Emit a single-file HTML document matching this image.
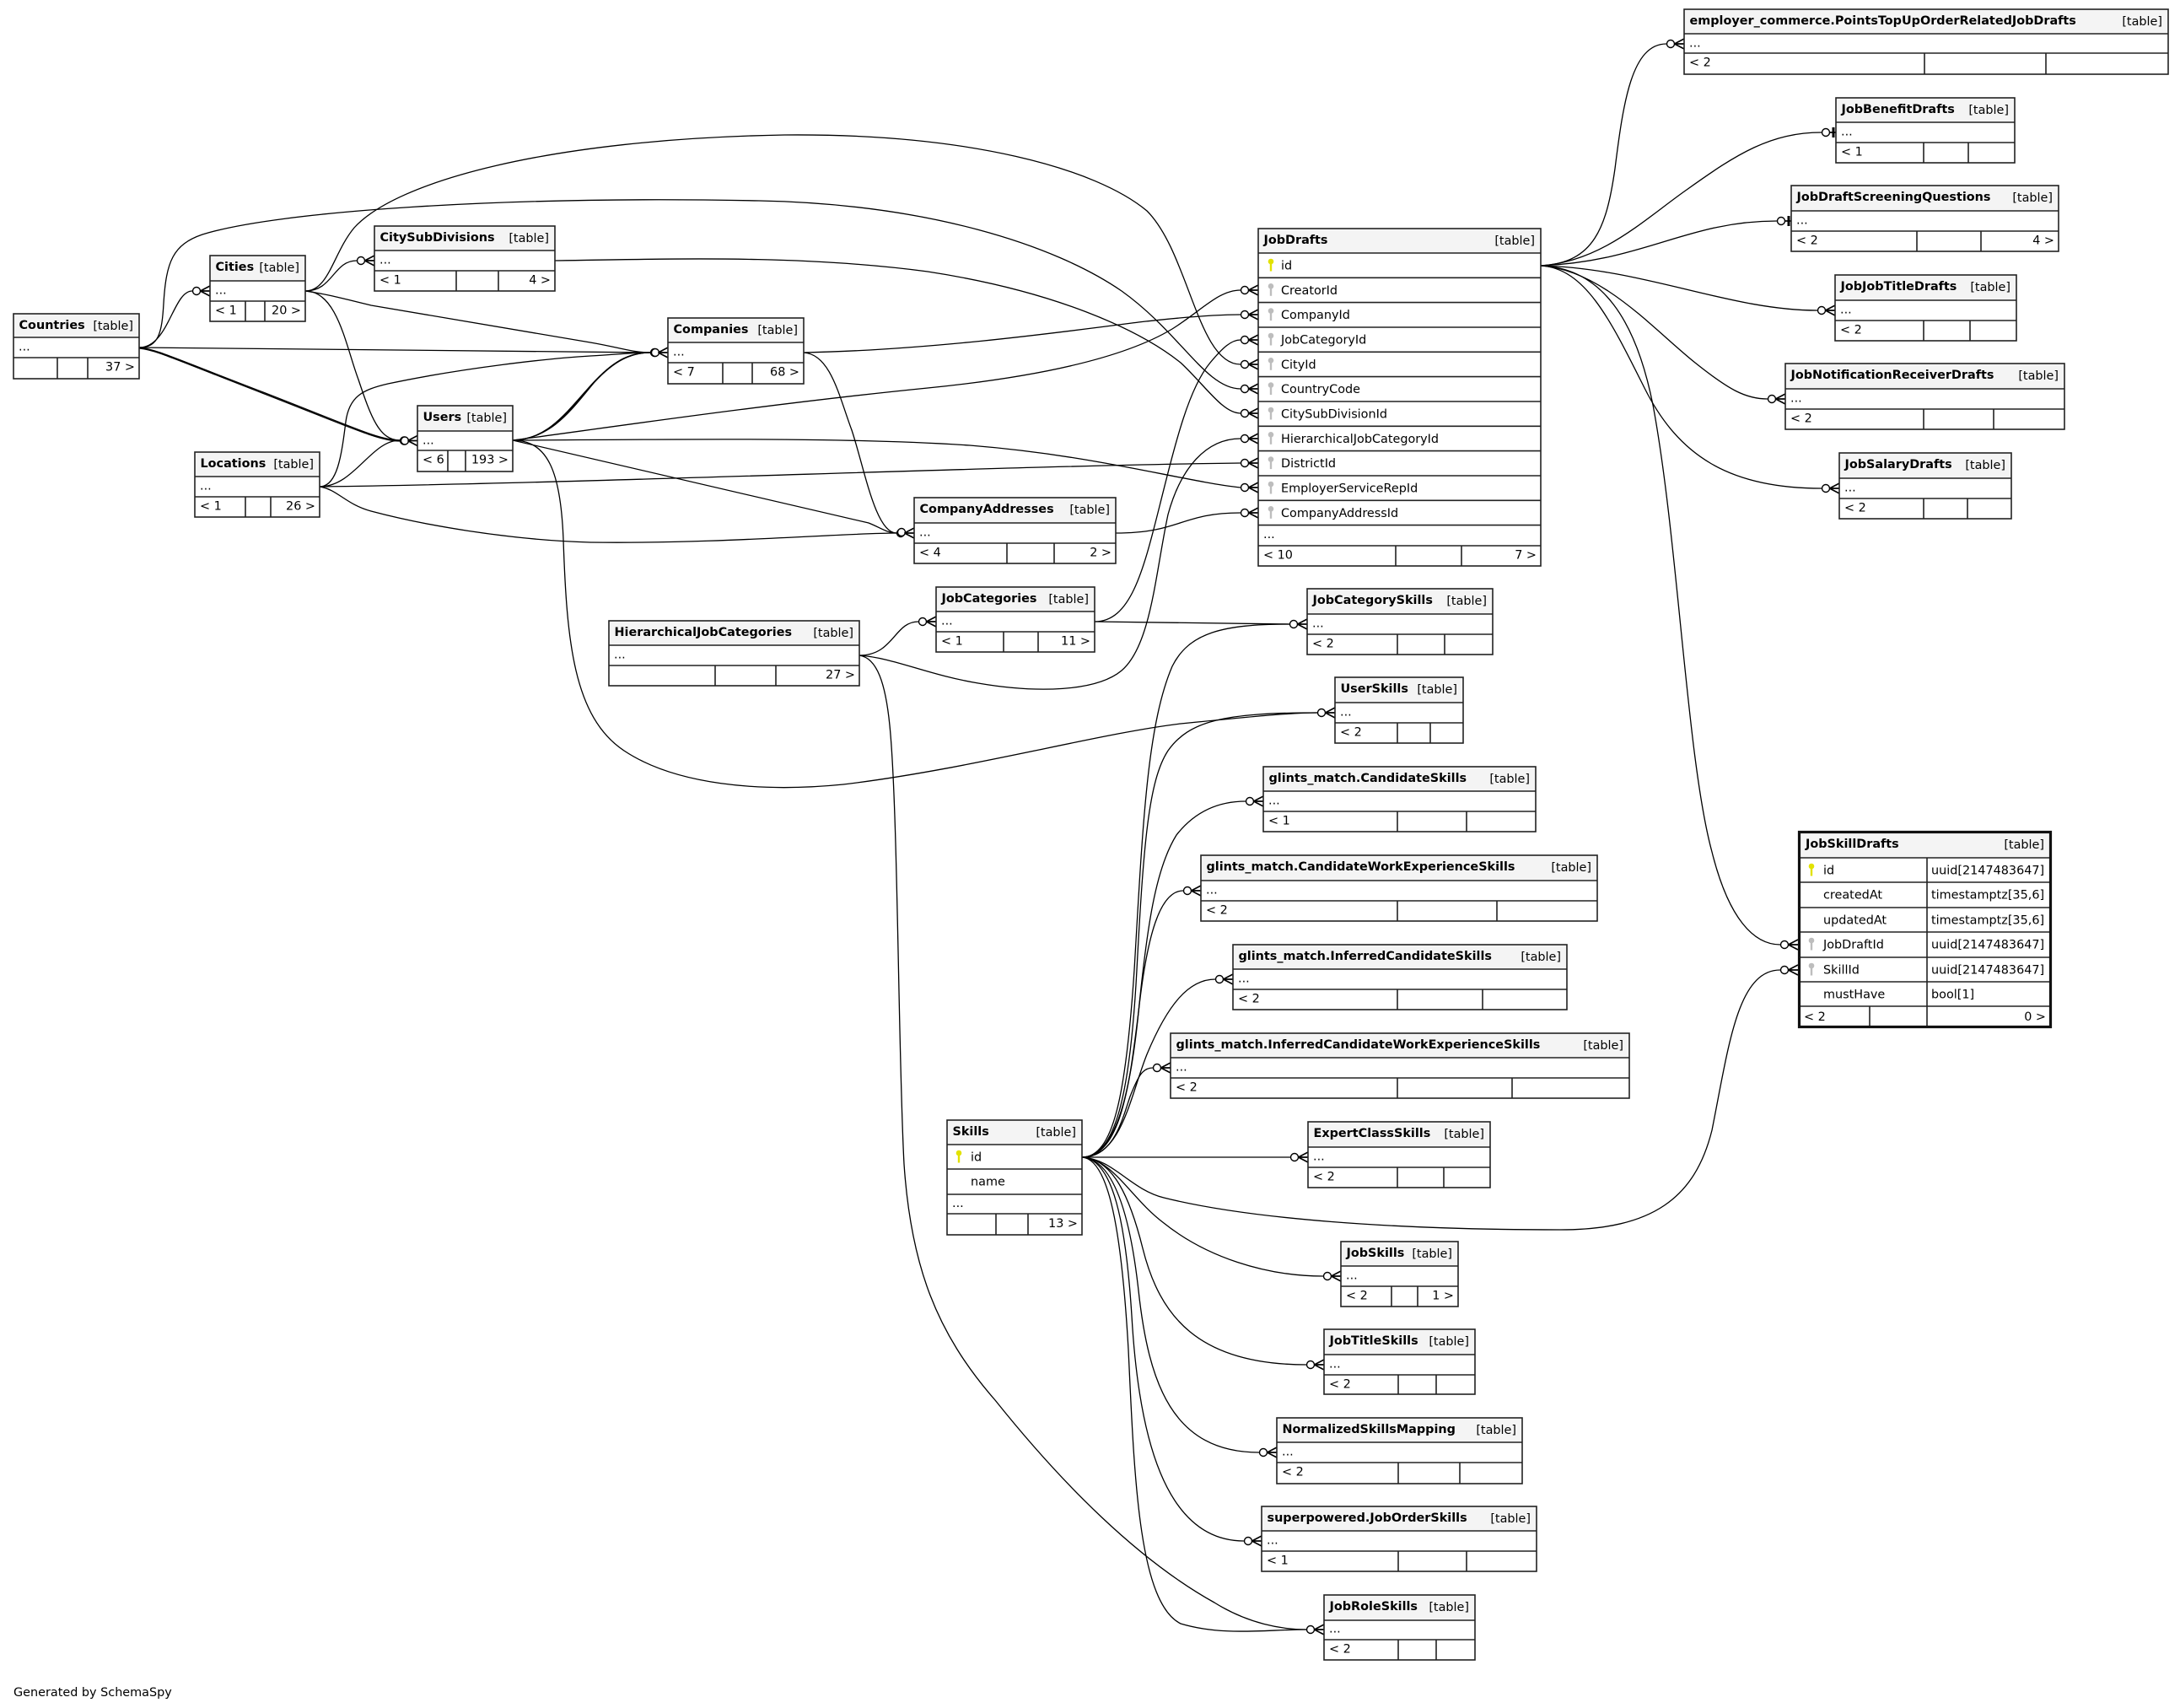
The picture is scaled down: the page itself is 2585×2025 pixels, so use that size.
<!DOCTYPE html>
<html><head><meta charset="utf-8">
<style>
html,body{margin:0;padding:0;background:#fff;}
svg{display:block}
text{font-family:"DejaVu Sans","Liberation Sans",sans-serif;font-size:14.4px;fill:#000}
.b{font-weight:bold}
.e{text-anchor:end}
.tb{fill:none;stroke:#222;stroke-width:1.6}
.tbk{fill:none;stroke:#111;stroke-width:3.2}
.ln{fill:none;stroke:#222;stroke-width:1.6}
.hd{fill:#f4f4f4}
.ed{fill:none;stroke:#000;stroke-width:1.3}
.ck{fill:#fff;stroke:#000;stroke-width:1.4}
.cf{fill:none;stroke:#000;stroke-width:1.7}
.tee{fill:none;stroke:#000;stroke-width:3}
</style></head><body>
<svg width="2585" height="2025" viewBox="0 0 2585 2025" xmlns="http://www.w3.org/2000/svg">
<defs><g id="k"><circle cx="0" cy="10" r="3.3"/><rect x="-1.2" y="11.5" width="2.4" height="10"/></g></defs>
<rect x="0" y="0" width="2585" height="2025" fill="#fff"/>

<!-- EDGES -->
<g class="ed">
<path d="M165,412 C200,412 205,345 228,345"/>
<path d="M165,412 C400,414 600,417 771,418"/>
<path d="M165,412 C185,414 200,422 312,465 C420,507 450,522 474,522"/>
<path d="M165,413 C185,415 200,423 311,466 C419,508 450,523 474,523"/>
<path d="M165,412 C188,412 192,395 194,360 C197,310 205,290 240,278 C330,250 600,232 900,238 C1100,242 1250,290 1330,345 C1400,395 1430,461 1471,461"/>
<path d="M362,345 C390,345 395,300 420,270 C470,215 650,165 930,160 C1150,158 1300,200 1360,250 C1410,300 1420,432 1471,432"/>
<path d="M362,345 C395,345 395,309 423,309"/>
<path d="M362,345 C400,345 410,410 425,450 C440,495 450,522 474,522"/>
<path d="M362,345 C395,350 410,355 440,362 L700,406 C735,412 750,418 771,418"/>
<path d="M658,309 C800,307 950,302 1100,322 C1250,345 1350,390 1400,430 C1430,458 1450,490 1471,490"/>
<path d="M608,522 C650,521 672,490 700,458 C725,430 745,418 771,418"/>
<path d="M608,522 C655,520 678,485 705,453 C728,428 748,418 771,418"/>
<path d="M608,522 C645,522 668,494 696,462 C722,432 742,418 771,418"/>
<path d="M608,522 C700,510 900,480 1100,460 C1250,445 1340,420 1390,390 C1425,368 1445,344 1471,344"/>
<path d="M608,522 C800,521 1000,518 1150,528 C1300,540 1400,570 1471,578"/>
<path d="M608,522 L1030,620 C1045,626 1052,632 1063,632"/>
<path d="M608,522 C650,522 665,560 668,640 C672,760 680,850 740,890 C800,930 900,940 1000,930 C1150,912 1300,870 1400,858 C1480,850 1530,845 1562,845"/>
<path d="M379,577 C420,577 440,522 474,522"/>
<path d="M379,577 C400,577 405,540 410,500 C414,470 430,462 460,455 C550,436 650,425 700,422 C735,420 752,418 771,418"/>
<path d="M379,577 C700,573 1200,552 1471,549"/>
<path d="M379,577 C400,580 410,598 440,606 C500,622 600,640 700,643 C850,645 1000,632 1063,632"/>
<path d="M953,418 C1100,415 1250,395 1350,382 C1420,374 1450,373 1471,373"/>
<path d="M953,418 C985,420 995,470 1010,510 C1025,555 1038,632 1063,632"/>
<path d="M1323,632 C1400,632 1400,608 1471,608"/>
<path d="M1298,737 C1340,737 1355,680 1375,600 C1395,520 1410,460 1435,430 C1450,412 1460,403 1471,403"/>
<path d="M1298,737 L1529,740"/>
<path d="M1019,777 C1060,777 1060,737 1089,737"/>
<path d="M1019,777 C1060,780 1100,800 1160,810 C1230,822 1300,820 1330,795 C1365,765 1370,680 1385,610 C1400,555 1430,520 1471,520"/>
<path d="M1019,777 C1040,780 1050,810 1055,860 C1065,960 1065,1250 1072,1380 C1080,1500 1110,1580 1180,1660 C1260,1760 1350,1850 1440,1900 C1480,1925 1520,1932 1549,1932"/>
<path d="M1827,315 C1890,312 1905,270 1915,200 C1925,120 1935,52 1976,52"/>
<path d="M1827,315 C1900,310 1950,260 2000,225 C2060,182 2100,157 2160,157"/>
<path d="M1827,315 C1950,310 2000,262 2107,262"/>
<path d="M1827,315 C1950,318 2050,368 2155,368"/>
<path d="M1827,315 C1900,320 1960,390 2010,430 C2050,462 2070,473 2096,473"/>
<path d="M1827,315 C1880,318 1910,380 1950,460 C1990,540 2050,579 2160,579"/>
<path d="M1827,315 C1900,318 1940,380 1960,480 C1990,640 2000,900 2030,1010 C2050,1090 2080,1120 2111,1120"/>
<path d="M1283,1372 C1320,1372 1335,1300 1345,1150 C1355,980 1360,860 1390,790 C1410,750 1450,740 1529,740"/>
<path d="M1283,1372 C1322,1372 1340,1300 1348,1150 C1356,1000 1362,925 1385,890 C1410,855 1450,845 1562,845"/>
<path d="M1283,1372 C1322,1372 1340,1300 1350,1200 C1360,1100 1370,1030 1395,990 C1420,958 1450,950 1477,950"/>
<path d="M1283,1372 C1330,1372 1340,1280 1350,1200 C1360,1110 1375,1056 1403,1056"/>
<path d="M1283,1372 C1330,1372 1340,1300 1360,1250 C1385,1190 1410,1161 1441,1161"/>
<path d="M1283,1372 C1320,1372 1330,1330 1340,1300 C1350,1275 1355,1266 1367,1266"/>
<path d="M1283,1372 L1530,1372"/>
<path d="M1283,1372 C1320,1374 1340,1410 1380,1420 C1480,1445 1650,1458 1850,1458 C1960,1458 2010,1420 2030,1340 C2050,1240 2060,1150 2111,1150"/>
<path d="M1283,1372 C1320,1374 1340,1420 1380,1450 C1430,1490 1500,1513 1569,1513"/>
<path d="M1283,1372 C1320,1374 1340,1420 1355,1480 C1375,1560 1420,1618 1549,1618"/>
<path d="M1283,1372 C1320,1374 1340,1440 1350,1530 C1362,1640 1390,1722 1493,1722"/>
<path d="M1283,1372 C1320,1374 1335,1450 1342,1560 C1350,1700 1380,1827 1475,1827"/>
<path d="M1283,1372 C1315,1374 1330,1460 1338,1600 C1345,1750 1350,1900 1400,1925 C1450,1940 1500,1932 1549,1932"/>
</g>

<!-- CROW MARKERS -->
<g>
<circle class="ck" cx="233" cy="345" r="4.5"/><path class="cf" d="M237.5,345L249,339M237.5,345L249,351M237.5,345H249"/>
<circle class="ck" cx="428" cy="309" r="4.5"/><path class="cf" d="M432.5,309L444,303M432.5,309L444,315M432.5,309H444"/>
<circle class="ck" cx="479" cy="522.5" r="4.5"/><circle class="ck" cx="480" cy="522.5" r="4.5"/><path class="cf" d="M483.5,522.5L495,516.5M483.5,522.5L495,528.5M483.5,522.5H495"/>
<circle class="ck" cx="776" cy="418" r="4.5"/><circle class="ck" cx="777" cy="418" r="4.5"/><path class="cf" d="M780.5,418L792,412M780.5,418L792,424M780.5,418H792"/>
<circle class="ck" cx="1068" cy="632" r="4.5"/><circle class="ck" cx="1069" cy="631" r="4.5"/><path class="cf" d="M1072.5,632L1084,626M1072.5,632L1084,638M1072.5,632H1084"/>
<circle class="ck" cx="1094" cy="737" r="4.5"/><path class="cf" d="M1098.5,737L1110,731M1098.5,737L1110,743M1098.5,737H1110"/>

<circle class="ck" cx="1476" cy="344" r="4.5"/><path class="cf" d="M1480.5,344L1492,338M1480.5,344L1492,350M1480.5,344H1492"/>
<circle class="ck" cx="1476" cy="373" r="4.5"/><path class="cf" d="M1480.5,373L1492,367M1480.5,373L1492,379M1480.5,373H1492"/>
<circle class="ck" cx="1476" cy="403" r="4.5"/><path class="cf" d="M1480.5,403L1492,397M1480.5,403L1492,409M1480.5,403H1492"/>
<circle class="ck" cx="1476" cy="432" r="4.5"/><path class="cf" d="M1480.5,432L1492,426M1480.5,432L1492,438M1480.5,432H1492"/>
<circle class="ck" cx="1476" cy="461" r="4.5"/><path class="cf" d="M1480.5,461L1492,455M1480.5,461L1492,467M1480.5,461H1492"/>
<circle class="ck" cx="1476" cy="490" r="4.5"/><path class="cf" d="M1480.5,490L1492,484M1480.5,490L1492,496M1480.5,490H1492"/>
<circle class="ck" cx="1476" cy="520" r="4.5"/><path class="cf" d="M1480.5,520L1492,514M1480.5,520L1492,526M1480.5,520H1492"/>
<circle class="ck" cx="1476" cy="549" r="4.5"/><path class="cf" d="M1480.5,549L1492,543M1480.5,549L1492,555M1480.5,549H1492"/>
<circle class="ck" cx="1476" cy="578" r="4.5"/><path class="cf" d="M1480.5,578L1492,572M1480.5,578L1492,584M1480.5,578H1492"/>
<circle class="ck" cx="1476" cy="608" r="4.5"/><path class="cf" d="M1480.5,608L1492,602M1480.5,608L1492,614M1480.5,608H1492"/>

<circle class="ck" cx="1981" cy="52" r="4.5"/><path class="cf" d="M1985.5,52L1997,46M1985.5,52L1997,58M1985.5,52H1997"/>
<circle class="ck" cx="2165" cy="157" r="4.5"/><path class="cf" d="M2169.5,157H2177"/><path class="tee" d="M2174,151V163"/>
<circle class="ck" cx="2112" cy="262" r="4.5"/><path class="cf" d="M2116.5,262H2124"/><path class="tee" d="M2121,256V268"/>
<circle class="ck" cx="2160" cy="368" r="4.5"/><path class="cf" d="M2164.5,368L2176,362M2164.5,368L2176,374M2164.5,368H2176"/>
<circle class="ck" cx="2101" cy="473" r="4.5"/><path class="cf" d="M2105.5,473L2117,467M2105.5,473L2117,479M2105.5,473H2117"/>
<circle class="ck" cx="2165" cy="579" r="4.5"/><path class="cf" d="M2169.5,579L2181,573M2169.5,579L2181,585M2169.5,579H2181"/>
<circle class="ck" cx="2116" cy="1120" r="4.5"/><path class="cf" d="M2120.5,1120L2132,1114M2120.5,1120L2132,1126M2120.5,1120H2132"/>
<circle class="ck" cx="2116" cy="1150" r="4.5"/><path class="cf" d="M2120.5,1150L2132,1144M2120.5,1150L2132,1156M2120.5,1150H2132"/>

<circle class="ck" cx="1534" cy="740" r="4.5"/><path class="cf" d="M1538.5,740L1550,734M1538.5,740L1550,746M1538.5,740H1550"/>
<circle class="ck" cx="1567" cy="845" r="4.5"/><path class="cf" d="M1571.5,845L1583,839M1571.5,845L1583,851M1571.5,845H1583"/>
<circle class="ck" cx="1482" cy="950" r="4.5"/><path class="cf" d="M1486.5,950L1498,944M1486.5,950L1498,956M1486.5,950H1498"/>
<circle class="ck" cx="1408" cy="1056" r="4.5"/><path class="cf" d="M1412.5,1056L1424,1050M1412.5,1056L1424,1062M1412.5,1056H1424"/>
<circle class="ck" cx="1446" cy="1161" r="4.5"/><path class="cf" d="M1450.5,1161L1462,1155M1450.5,1161L1462,1167M1450.5,1161H1462"/>
<circle class="ck" cx="1372" cy="1266" r="4.5"/><path class="cf" d="M1376.5,1266L1388,1260M1376.5,1266L1388,1272M1376.5,1266H1388"/>
<circle class="ck" cx="1535" cy="1372" r="4.5"/><path class="cf" d="M1539.5,1372L1551,1366M1539.5,1372L1551,1378M1539.5,1372H1551"/>
<circle class="ck" cx="1574" cy="1513" r="4.5"/><path class="cf" d="M1578.5,1513L1590,1507M1578.5,1513L1590,1519M1578.5,1513H1590"/>
<circle class="ck" cx="1554" cy="1618" r="4.5"/><path class="cf" d="M1558.5,1618L1570,1612M1558.5,1618L1570,1624M1558.5,1618H1570"/>
<circle class="ck" cx="1498" cy="1722" r="4.5"/><path class="cf" d="M1502.5,1722L1514,1716M1502.5,1722L1514,1728M1502.5,1722H1514"/>
<circle class="ck" cx="1480" cy="1827" r="4.5"/><path class="cf" d="M1484.5,1827L1496,1821M1484.5,1827L1496,1833M1484.5,1827H1496"/>
<circle class="ck" cx="1554" cy="1932" r="4.5"/><path class="cf" d="M1558.5,1932L1570,1926M1558.5,1932L1570,1938M1558.5,1932H1570"/>
</g>

<!-- TABLES -->
<!-- Countries -->
<g><rect x="16" y="372" width="149" height="77" fill="#fff"/><rect class="hd" x="16" y="372" width="149" height="28"/>
<path class="ln" d="M16,400H165M16,424H165M68,424V449M104,424V449"/><rect class="tb" x="16" y="372" width="149" height="77"/>
<text class="b" x="22.5" y="390">Countries</text><text class="e" x="158" y="391">[table]</text>
<text x="22" y="415.5">...</text><text class="e" x="160" y="439.5">37 &gt;</text></g>

<!-- Cities -->
<g><rect x="249" y="303" width="113" height="78" fill="#fff"/><rect class="hd" x="249" y="303" width="113" height="30"/>
<path class="ln" d="M249,333H362M249,357H362M291,357V381M314,357V381"/><rect class="tb" x="249" y="303" width="113" height="78"/>
<text class="b" x="255.5" y="321">Cities</text><text class="e" x="355" y="322">[table]</text>
<text x="255" y="348.5">...</text><text x="255" y="372.5">&lt; 1</text><text class="e" x="357" y="372.5">20 &gt;</text></g>

<!-- CitySubDivisions -->
<g><rect x="444" y="268" width="214" height="77" fill="#fff"/><rect class="hd" x="444" y="268" width="214" height="29"/>
<path class="ln" d="M444,297H658M444,321H658M541,321V345M591,321V345"/><rect class="tb" x="444" y="268" width="214" height="77"/>
<text class="b" x="450.5" y="286">CitySubDivisions</text><text class="e" x="651" y="287">[table]</text>
<text x="450" y="312.5">...</text><text x="450" y="336.5">&lt; 1</text><text class="e" x="653" y="336.5">4 &gt;</text></g>

<!-- Users -->
<g><rect x="495" y="481" width="113" height="78" fill="#fff"/><rect class="hd" x="495" y="481" width="113" height="30"/>
<path class="ln" d="M495,511H608M495,534H608M531,534V559M552,534V559"/><rect class="tb" x="495" y="481" width="113" height="78"/>
<text class="b" x="501.5" y="499">Users</text><text class="e" x="601" y="500">[table]</text>
<text x="501" y="526.5">...</text><text x="501" y="549.5">&lt; 6</text><text class="e" x="603" y="549.5">193 &gt;</text></g>

<!-- Locations -->
<g><rect x="231" y="536" width="148" height="77" fill="#fff"/><rect class="hd" x="231" y="536" width="148" height="29"/>
<path class="ln" d="M231,565H379M231,589H379M291,589V613M321,589V613"/><rect class="tb" x="231" y="536" width="148" height="77"/>
<text class="b" x="237.5" y="554">Locations</text><text class="e" x="372" y="555">[table]</text>
<text x="237" y="580.5">...</text><text x="237" y="604.5">&lt; 1</text><text class="e" x="374" y="604.5">26 &gt;</text></g>

<!-- Companies -->
<g><rect x="792" y="377" width="161" height="78" fill="#fff"/><rect class="hd" x="792" y="377" width="161" height="29"/>
<path class="ln" d="M792,406H953M792,430H953M857,430V455M892,430V455"/><rect class="tb" x="792" y="377" width="161" height="78"/>
<text class="b" x="798.5" y="395">Companies</text><text class="e" x="946" y="396">[table]</text>
<text x="798" y="421.5">...</text><text x="798" y="445.5">&lt; 7</text><text class="e" x="948" y="445.5">68 &gt;</text></g>

<!-- CompanyAddresses -->
<g><rect x="1084" y="590" width="239" height="78" fill="#fff"/><rect class="hd" x="1084" y="590" width="239" height="30"/>
<path class="ln" d="M1084,620H1323M1084,644H1323M1194,644V668M1250,644V668"/><rect class="tb" x="1084" y="590" width="239" height="78"/>
<text class="b" x="1090.5" y="608">CompanyAddresses</text><text class="e" x="1316" y="609">[table]</text>
<text x="1090" y="635.5">...</text><text x="1090" y="659.5">&lt; 4</text><text class="e" x="1318" y="659.5">2 &gt;</text></g>

<!-- JobCategories -->
<g><rect x="1110" y="696" width="188" height="77" fill="#fff"/><rect class="hd" x="1110" y="696" width="188" height="29"/>
<path class="ln" d="M1110,725H1298M1110,749H1298M1190,749V773M1231,749V773"/><rect class="tb" x="1110" y="696" width="188" height="77"/>
<text class="b" x="1116.5" y="714">JobCategories</text><text class="e" x="1291" y="715">[table]</text>
<text x="1116" y="740.5">...</text><text x="1116" y="764.5">&lt; 1</text><text class="e" x="1293" y="764.5">11 &gt;</text></g>

<!-- HierarchicalJobCategories -->
<g><rect x="722" y="736" width="297" height="77" fill="#fff"/><rect class="hd" x="722" y="736" width="297" height="29"/>
<path class="ln" d="M722,765H1019M722,789H1019M848,789V813M920,789V813"/><rect class="tb" x="722" y="736" width="297" height="77"/>
<text class="b" x="728.5" y="754">HierarchicalJobCategories</text><text class="e" x="1012" y="755">[table]</text>
<text x="728" y="780.5">...</text><text class="e" x="1014" y="804.5">27 &gt;</text></g>

<!-- JobDrafts -->
<g><rect x="1492" y="271" width="335" height="400" fill="#fff"/><rect class="hd" x="1492" y="271" width="335" height="29"/>
<path class="ln" d="M1492,300H1827M1492,329.3H1827M1492,358.6H1827M1492,388H1827M1492,417.3H1827M1492,446.6H1827M1492,476H1827M1492,505.3H1827M1492,534.6H1827M1492,564H1827M1492,593.3H1827M1492,622.6H1827M1492,647H1827M1655,647V671M1733,647V671"/>
<rect class="tb" x="1492" y="271" width="335" height="400"/>
<text class="b" x="1498.5" y="289">JobDrafts</text><text class="e" x="1820" y="290">[table]</text>
<use href="#k" x="1507" y="300" fill="#e2e200"/>
<use href="#k" x="1507" y="329.3" fill="#bdbdbd"/>
<use href="#k" x="1507" y="358.6" fill="#bdbdbd"/>
<use href="#k" x="1507" y="388" fill="#bdbdbd"/>
<use href="#k" x="1507" y="417.3" fill="#bdbdbd"/>
<use href="#k" x="1507" y="446.6" fill="#bdbdbd"/>
<use href="#k" x="1507" y="476" fill="#bdbdbd"/>
<use href="#k" x="1507" y="505.3" fill="#bdbdbd"/>
<use href="#k" x="1507" y="534.6" fill="#bdbdbd"/>
<use href="#k" x="1507" y="564" fill="#bdbdbd"/>
<use href="#k" x="1507" y="593.3" fill="#bdbdbd"/>
<text x="1519" y="319.5">id</text>
<text x="1519" y="348.8">CreatorId</text>
<text x="1519" y="378.1">CompanyId</text>
<text x="1519" y="407.5">JobCategoryId</text>
<text x="1519" y="436.8">CityId</text>
<text x="1519" y="466.1">CountryCode</text>
<text x="1519" y="495.5">CitySubDivisionId</text>
<text x="1519" y="524.8">HierarchicalJobCategoryId</text>
<text x="1519" y="554.1">DistrictId</text>
<text x="1519" y="583.5">EmployerServiceRepId</text>
<text x="1519" y="612.8">CompanyAddressId</text>
<text x="1498" y="638">...</text>
<text x="1498" y="662.5">&lt; 10</text><text class="e" x="1822" y="662.5">7 &gt;</text></g>

<!-- employer_commerce -->
<g><rect x="1997" y="11" width="574" height="77" fill="#fff"/><rect class="hd" x="1997" y="11" width="574" height="29"/>
<path class="ln" d="M1997,40H2571M1997,63H2571M2282,63V88M2426,63V88"/><rect class="tb" x="1997" y="11" width="574" height="77"/>
<text class="b" x="2003.5" y="29">employer_commerce.PointsTopUpOrderRelatedJobDrafts</text><text class="e" x="2564" y="30">[table]</text>
<text x="2003" y="55.5">...</text><text x="2003" y="78.5">&lt; 2</text></g>

<!-- JobBenefitDrafts -->
<g><rect x="2177" y="116" width="212" height="77" fill="#fff"/><rect class="hd" x="2177" y="116" width="212" height="29"/>
<path class="ln" d="M2177,145H2389M2177,169H2389M2281,169V193M2334,169V193"/><rect class="tb" x="2177" y="116" width="212" height="77"/>
<text class="b" x="2183.5" y="134">JobBenefitDrafts</text><text class="e" x="2382" y="135">[table]</text>
<text x="2183" y="160.5">...</text><text x="2183" y="184.5">&lt; 1</text></g>

<!-- JobDraftScreeningQuestions -->
<g><rect x="2124" y="220" width="317" height="78" fill="#fff"/><rect class="hd" x="2124" y="220" width="317" height="30"/>
<path class="ln" d="M2124,250H2441M2124,274H2441M2273,274V298M2349,274V298"/><rect class="tb" x="2124" y="220" width="317" height="78"/>
<text class="b" x="2130.5" y="238">JobDraftScreeningQuestions</text><text class="e" x="2434" y="239">[table]</text>
<text x="2130" y="265.5">...</text><text x="2130" y="289.5">&lt; 2</text><text class="e" x="2436" y="289.5">4 &gt;</text></g>

<!-- JobJobTitleDrafts -->
<g><rect x="2176" y="326" width="215" height="78" fill="#fff"/><rect class="hd" x="2176" y="326" width="215" height="30"/>
<path class="ln" d="M2176,356H2391M2176,380H2391M2281,380V404M2336,380V404"/><rect class="tb" x="2176" y="326" width="215" height="78"/>
<text class="b" x="2182.5" y="344">JobJobTitleDrafts</text><text class="e" x="2384" y="345">[table]</text>
<text x="2182" y="371.5">...</text><text x="2182" y="395.5">&lt; 2</text></g>

<!-- JobNotificationReceiverDrafts -->
<g><rect x="2117" y="431" width="331" height="78" fill="#fff"/><rect class="hd" x="2117" y="431" width="331" height="30"/>
<path class="ln" d="M2117,461H2448M2117,485H2448M2281,485V509M2364,485V509"/><rect class="tb" x="2117" y="431" width="331" height="78"/>
<text class="b" x="2123.5" y="449">JobNotificationReceiverDrafts</text><text class="e" x="2441" y="450">[table]</text>
<text x="2123" y="476.5">...</text><text x="2123" y="500.5">&lt; 2</text></g>

<!-- JobSalaryDrafts -->
<g><rect x="2181" y="537" width="204" height="78" fill="#fff"/><rect class="hd" x="2181" y="537" width="204" height="30"/>
<path class="ln" d="M2181,567H2385M2181,591H2385M2281,591V615M2333,591V615"/><rect class="tb" x="2181" y="537" width="204" height="78"/>
<text class="b" x="2187.5" y="555">JobSalaryDrafts</text><text class="e" x="2378" y="556">[table]</text>
<text x="2187" y="582.5">...</text><text x="2187" y="606.5">&lt; 2</text></g>

<!-- JobSkillDrafts -->
<g><rect x="2132" y="985" width="301" height="234" fill="#fff"/><rect class="hd" x="2132" y="985" width="301" height="32"/>
<path class="ln" d="M2132,1017H2433M2132,1046H2433M2132,1076H2433M2132,1105H2433M2132,1135H2433M2132,1164H2433M2132,1193H2433M2285,1017V1219M2217,1193V1219"/>
<rect class="tbk" x="2133.5" y="986.5" width="298" height="231"/>
<text class="b" x="2141" y="1005">JobSkillDrafts</text><text class="e" x="2424" y="1006">[table]</text>
<use href="#k" x="2148" y="1017" fill="#e2e200"/>
<use href="#k" x="2148" y="1105" fill="#bdbdbd"/>
<use href="#k" x="2148" y="1135" fill="#bdbdbd"/>
<text x="2162" y="1036.5">id</text><text x="2290" y="1036.5">uuid[2147483647]</text>
<text x="2162" y="1065.5">createdAt</text><text x="2290" y="1065.5">timestamptz[35,6]</text>
<text x="2162" y="1095.5">updatedAt</text><text x="2290" y="1095.5">timestamptz[35,6]</text>
<text x="2162" y="1124.5">JobDraftId</text><text x="2290" y="1124.5">uuid[2147483647]</text>
<text x="2162" y="1154.5">SkillId</text><text x="2290" y="1154.5">uuid[2147483647]</text>
<text x="2162" y="1183.5">mustHave</text><text x="2290" y="1183.5">bool[1]</text>
<text x="2139" y="1210">&lt; 2</text><text class="e" x="2426" y="1210">0 &gt;</text></g>

<!-- JobCategorySkills -->
<g><rect x="1550" y="698" width="220" height="78" fill="#fff"/><rect class="hd" x="1550" y="698" width="220" height="30"/>
<path class="ln" d="M1550,728H1770M1550,752H1770M1657,752V776M1713,752V776"/><rect class="tb" x="1550" y="698" width="220" height="78"/>
<text class="b" x="1556.5" y="716">JobCategorySkills</text><text class="e" x="1763" y="717">[table]</text>
<text x="1556" y="743.5">...</text><text x="1556" y="767.5">&lt; 2</text></g>

<!-- UserSkills -->
<g><rect x="1583" y="803" width="152" height="78" fill="#fff"/><rect class="hd" x="1583" y="803" width="152" height="30"/>
<path class="ln" d="M1583,833H1735M1583,857H1735M1657,857V881M1696,857V881"/><rect class="tb" x="1583" y="803" width="152" height="78"/>
<text class="b" x="1589.5" y="821">UserSkills</text><text class="e" x="1728" y="822">[table]</text>
<text x="1589" y="848.5">...</text><text x="1589" y="872.5">&lt; 2</text></g>

<!-- glints_match.CandidateSkills -->
<g><rect x="1498" y="909" width="323" height="77" fill="#fff"/><rect class="hd" x="1498" y="909" width="323" height="29"/>
<path class="ln" d="M1498,938H1821M1498,962H1821M1657,962V986M1739,962V986"/><rect class="tb" x="1498" y="909" width="323" height="77"/>
<text class="b" x="1504.5" y="927">glints_match.CandidateSkills</text><text class="e" x="1814" y="928">[table]</text>
<text x="1504" y="953.5">...</text><text x="1504" y="977.5">&lt; 1</text></g>

<!-- glints_match.CandidateWorkExperienceSkills -->
<g><rect x="1424" y="1014" width="470" height="78" fill="#fff"/><rect class="hd" x="1424" y="1014" width="470" height="30"/>
<path class="ln" d="M1424,1044H1894M1424,1068H1894M1657,1068V1092M1775,1068V1092"/><rect class="tb" x="1424" y="1014" width="470" height="78"/>
<text class="b" x="1430.5" y="1032">glints_match.CandidateWorkExperienceSkills</text><text class="e" x="1887" y="1033">[table]</text>
<text x="1430" y="1059.5">...</text><text x="1430" y="1083.5">&lt; 2</text></g>

<!-- glints_match.InferredCandidateSkills -->
<g><rect x="1462" y="1120" width="396" height="77" fill="#fff"/><rect class="hd" x="1462" y="1120" width="396" height="29"/>
<path class="ln" d="M1462,1149H1858M1462,1173H1858M1657,1173V1197M1758,1173V1197"/><rect class="tb" x="1462" y="1120" width="396" height="77"/>
<text class="b" x="1468.5" y="1138">glints_match.InferredCandidateSkills</text><text class="e" x="1851" y="1139">[table]</text>
<text x="1468" y="1164.5">...</text><text x="1468" y="1188.5">&lt; 2</text></g>

<!-- glints_match.InferredCandidateWorkExperienceSkills -->
<g><rect x="1388" y="1225" width="544" height="77" fill="#fff"/><rect class="hd" x="1388" y="1225" width="544" height="29"/>
<path class="ln" d="M1388,1254H1932M1388,1278H1932M1657,1278V1302M1793,1278V1302"/><rect class="tb" x="1388" y="1225" width="544" height="77"/>
<text class="b" x="1394.5" y="1243">glints_match.InferredCandidateWorkExperienceSkills</text><text class="e" x="1925" y="1244">[table]</text>
<text x="1394" y="1269.5">...</text><text x="1394" y="1293.5">&lt; 2</text></g>

<!-- ExpertClassSkills -->
<g><rect x="1551" y="1330" width="216" height="78" fill="#fff"/><rect class="hd" x="1551" y="1330" width="216" height="30"/>
<path class="ln" d="M1551,1360H1767M1551,1384H1767M1657,1384V1408M1712,1384V1408"/><rect class="tb" x="1551" y="1330" width="216" height="78"/>
<text class="b" x="1557.5" y="1348">ExpertClassSkills</text><text class="e" x="1760" y="1349">[table]</text>
<text x="1557" y="1375.5">...</text><text x="1557" y="1399.5">&lt; 2</text></g>

<!-- JobSkills -->
<g><rect x="1590" y="1472" width="139" height="77" fill="#fff"/><rect class="hd" x="1590" y="1472" width="139" height="29"/>
<path class="ln" d="M1590,1501H1729M1590,1525H1729M1650,1525V1549M1681,1525V1549"/><rect class="tb" x="1590" y="1472" width="139" height="77"/>
<text class="b" x="1596.5" y="1490">JobSkills</text><text class="e" x="1722" y="1491">[table]</text>
<text x="1596" y="1516.5">...</text><text x="1596" y="1540.5">&lt; 2</text><text class="e" x="1724" y="1540.5">1 &gt;</text></g>

<!-- JobTitleSkills -->
<g><rect x="1570" y="1576" width="179" height="77" fill="#fff"/><rect class="hd" x="1570" y="1576" width="179" height="30"/>
<path class="ln" d="M1570,1606H1749M1570,1630H1749M1658,1630V1653M1703,1630V1653"/><rect class="tb" x="1570" y="1576" width="179" height="77"/>
<text class="b" x="1576.5" y="1594">JobTitleSkills</text><text class="e" x="1742" y="1595">[table]</text>
<text x="1576" y="1621.5">...</text><text x="1576" y="1645.5">&lt; 2</text></g>

<!-- NormalizedSkillsMapping -->
<g><rect x="1514" y="1681" width="291" height="78" fill="#fff"/><rect class="hd" x="1514" y="1681" width="291" height="29"/>
<path class="ln" d="M1514,1710H1805M1514,1734H1805M1658,1734V1759M1731,1734V1759"/><rect class="tb" x="1514" y="1681" width="291" height="78"/>
<text class="b" x="1520.5" y="1699">NormalizedSkillsMapping</text><text class="e" x="1798" y="1700">[table]</text>
<text x="1520" y="1725.5">...</text><text x="1520" y="1749.5">&lt; 2</text></g>

<!-- superpowered.JobOrderSkills -->
<g><rect x="1496" y="1786" width="326" height="77" fill="#fff"/><rect class="hd" x="1496" y="1786" width="326" height="29"/>
<path class="ln" d="M1496,1815H1822M1496,1839H1822M1658,1839V1863M1739,1839V1863"/><rect class="tb" x="1496" y="1786" width="326" height="77"/>
<text class="b" x="1502.5" y="1804">superpowered.JobOrderSkills</text><text class="e" x="1815" y="1805">[table]</text>
<text x="1502" y="1830.5">...</text><text x="1502" y="1854.5">&lt; 1</text></g>

<!-- JobRoleSkills -->
<g><rect x="1570" y="1891" width="179" height="77" fill="#fff"/><rect class="hd" x="1570" y="1891" width="179" height="30"/>
<path class="ln" d="M1570,1921H1749M1570,1944H1749M1658,1944V1968M1703,1944V1968"/><rect class="tb" x="1570" y="1891" width="179" height="77"/>
<text class="b" x="1576.5" y="1909">JobRoleSkills</text><text class="e" x="1742" y="1910">[table]</text>
<text x="1576" y="1935.5">...</text><text x="1576" y="1959.5">&lt; 2</text></g>

<!-- Skills -->
<g><rect x="1123" y="1328" width="160" height="136" fill="#fff"/><rect class="hd" x="1123" y="1328" width="160" height="29"/>
<path class="ln" d="M1123,1357H1283M1123,1386H1283M1123,1416H1283M1123,1439H1283M1181,1439V1464M1219,1439V1464"/><rect class="tb" x="1123" y="1328" width="160" height="136"/>
<text class="b" x="1129.5" y="1346">Skills</text><text class="e" x="1276" y="1347">[table]</text>
<use href="#k" x="1137" y="1357" fill="#e2e200"/>
<text x="1151" y="1376.5">id</text>
<text x="1151" y="1405.5">name</text>
<text x="1129" y="1431">...</text>
<text class="e" x="1278" y="1455">13 &gt;</text></g>

<text x="16" y="2011">Generated by SchemaSpy</text>
</svg>
</body></html>
